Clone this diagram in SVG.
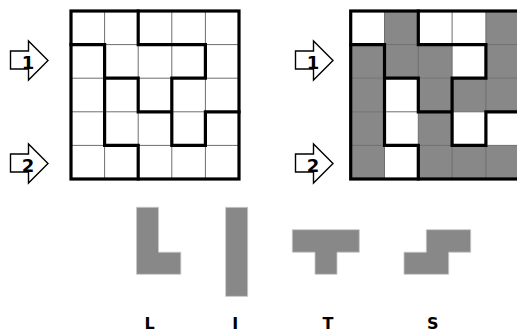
<svg xmlns="http://www.w3.org/2000/svg" width="517" height="331" viewBox="0 0 517 331">
<style>
.bg{fill:#ffffff}
.cell{fill:#888888}
.thin{stroke:#6e6e6e;stroke-width:1;fill:none}
.thick{stroke:#000000;stroke-width:3.2;fill:none;stroke-linecap:square;stroke-linejoin:miter}
.arrow{fill:#ffffff;stroke:#000000;stroke-width:1.4;stroke-linejoin:miter}
.num{font-family:"DejaVu Sans",Verdana,sans-serif;font-weight:bold;font-size:18px;fill:#000;text-anchor:middle}
.piece{fill:#888888;stroke:#c8c8c8;stroke-width:0.8}
.lbl{font-family:"DejaVu Sans",Verdana,sans-serif;font-weight:bold;font-size:16px;fill:#000;text-anchor:middle}
</style>
<rect width="517" height="331" class="bg"/>

<g id="grid-puzzle">
  <path class="thin" d="M104.6,11V179M138.2,11V179M171.8,11V179M205.4,11V179M71,44.6H239M71,78.2H239M71,111.8H239M71,145.4H239"/>
  <path class="thick" d="M138.2,11V44.6M71,44.6H104.6V145.4H138.2V179M138.2,44.6H205.4V78.2H171.8V145.4H205.4V111.8H239M104.6,78.2H138.2V111.8H171.8"/>
  <rect x="71" y="11" width="168" height="168" class="thick"/>
</g>

<g id="grid-solution">
  <g class="cell">
    <rect x="384.5" y="11" width="33.8" height="33.6"/>
    <rect x="485.9" y="11" width="33.8" height="33.6"/>
    <rect x="350.7" y="44.6" width="101.4" height="33.6"/>
    <rect x="485.9" y="44.6" width="33.8" height="33.6"/>
    <rect x="350.7" y="78.2" width="33.8" height="33.6"/>
    <rect x="418.3" y="78.2" width="101.4" height="33.6"/>
    <rect x="350.7" y="111.8" width="33.8" height="33.6"/>
    <rect x="418.3" y="111.8" width="33.8" height="33.6"/>
    <rect x="350.7" y="145.4" width="33.8" height="33.6"/>
    <rect x="418.3" y="145.4" width="101.4" height="33.6"/>
  </g>
  <path class="thin" d="M384.5,11V179M418.3,11V179M452.1,11V179M485.9,11V179M350.7,44.6H519.7M350.7,78.2H519.7M350.7,111.8H519.7M350.7,145.4H519.7"/>
  <path class="thick" d="M418.3,11V44.6M350.7,44.6H384.5V145.4H418.3V179M418.3,44.6H485.9V78.2H452.1V145.4H485.9V111.8H519.7M384.5,78.2H418.3V111.8H452.1"/>
  <rect x="350.7" y="11" width="169" height="168" class="thick"/>
</g>

<g id="arrow-left-1">
  <polygon class="arrow" points="10.5,51 28.5,51 28.5,41 48,60.5 28.5,80 28.5,69 10.5,69"/>
  <text class="num" x="28" y="68.5">1</text>
</g>
<g id="arrow-left-2">
  <polygon class="arrow" points="10.5,154 28.5,154 28.5,144 48,163.5 28.5,183 28.5,172 10.5,172"/>
  <text class="num" x="28" y="171.5">2</text>
</g>
<g id="arrow-right-1">
  <polygon class="arrow" points="295.5,51 313.5,51 313.5,41 333,60.5 313.5,80 313.5,69 295.5,69"/>
  <text class="num" x="313" y="68.5">1</text>
</g>
<g id="arrow-right-2">
  <polygon class="arrow" points="295.5,154 313.5,154 313.5,144 333,163.5 313.5,183 313.5,172 295.5,172"/>
  <text class="num" x="313" y="171.5">2</text>
</g>

<g id="piece-L">
  <path class="piece" d="M136.5,207.3H158.5V252.2H180.8V274.3H136.5Z"/>
  <text class="lbl" x="149.5" y="328.5">L</text>
</g>
<g id="piece-I">
  <rect class="piece" x="225.7" y="207.3" width="22" height="89"/>
  <text class="lbl" x="235.3" y="328.5">I</text>
</g>
<g id="piece-T">
  <path class="piece" d="M292.3,229.7H359.3V252.2H337V274.3H315V252.2H292.3Z"/>
  <text class="lbl" x="328" y="328.5">T</text>
</g>
<g id="piece-S">
  <path class="piece" d="M426.3,229.7H470.7V252.2H448.7V274.3H404V252.2H426.3Z"/>
  <text class="lbl" x="432.8" y="328.5">S</text>
</g>
</svg>
